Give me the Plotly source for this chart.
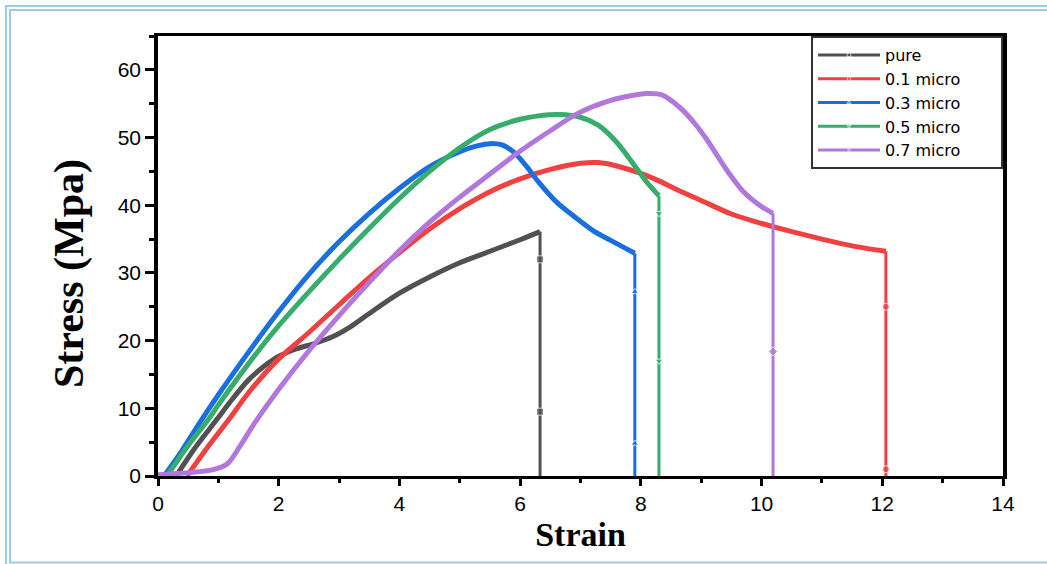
import plotly.graph_objects as go

names = ["pure", "0.1 micro", "0.3 micro", "0.5 micro", "0.7 micro"]
colors = ["#515151", "#F14040", "#1A6FDF", "#37AD6B", "#B177DE"]
symbols = ["square", "circle", "triangle-up", "triangle-down", "diamond"]

pure_x = [0.3, 0.6, 0.97, 1.2, 1.5, 1.8, 2.0, 2.3, 2.6, 2.9, 3.2, 3.5, 4.0, 4.5, 5.0, 5.5, 6.0, 6.33]
pure_y = [0.0, 4.0, 8.3, 11.0, 14.2, 16.5, 17.7, 18.8, 19.6, 20.6, 22.1, 24.0, 27.0, 29.4, 31.5, 33.2, 34.9, 36.1]

m01_x = [0.48, 0.8, 1.17, 1.5, 2.0, 2.5, 3.0, 3.5, 4.0, 4.5, 5.0, 5.5, 6.0, 6.5, 7.0, 7.3, 7.6, 8.0, 8.3, 8.6, 9.0, 9.5, 10.0, 10.5, 11.0, 11.5, 12.06]
m01_y = [0.0, 4.0, 8.3, 12.3, 17.3, 21.2, 25.3, 29.3, 33.0, 36.5, 39.5, 42.0, 43.9, 45.3, 46.2, 46.3, 45.8, 44.7, 43.6, 42.3, 40.7, 38.7, 37.3, 36.1, 35.0, 34.0, 33.2]

m03_x = [0.1, 0.4, 0.7, 1.0, 1.5, 2.0, 2.5, 3.0, 3.5, 4.0, 4.5, 5.0, 5.3, 5.5, 5.7, 5.9, 6.1, 6.3, 6.6, 6.9, 7.2, 7.5, 7.9]
m03_y = [0.0, 3.8, 8.0, 12.0, 18.3, 24.3, 29.8, 34.6, 38.8, 42.5, 45.7, 47.9, 48.8, 49.1, 48.9, 47.8, 45.8, 43.5, 40.5, 38.3, 36.3, 34.8, 32.9]

m05_x = [0.15, 0.5, 0.83, 1.0, 1.5, 2.0, 2.5, 3.0, 3.5, 4.0, 4.5, 5.0, 5.5, 6.0, 6.3, 6.66, 7.0, 7.3, 7.6, 7.9, 8.1, 8.3]
m05_y = [0.0, 4.5, 8.3, 10.5, 16.6, 22.2, 27.2, 32.0, 36.6, 41.0, 45.0, 48.5, 51.2, 52.7, 53.2, 53.4, 53.0, 51.8, 49.3, 45.8, 43.4, 41.4]

m07_x = [0.0, 0.5, 0.9, 1.15, 1.35, 1.6, 2.0, 2.5, 3.0, 3.5, 4.0, 4.5, 5.0, 5.5, 6.0, 6.5, 6.94, 7.5, 8.1, 8.35, 8.65, 8.9, 9.1, 9.43, 9.7, 10.0, 10.19]
m07_y = [0.2, 0.5, 0.9, 1.8, 4.3, 7.8, 12.8, 18.5, 23.7, 28.6, 33.3, 37.5, 41.2, 44.6, 48.0, 51.0, 53.5, 55.5, 56.5, 56.3, 54.4, 52.0, 49.6, 45.1, 42.0, 39.8, 38.8]

# marker positions on the fracture (drop) lines
drop_marks = [[32.0, 9.5], [25.0, 1.0], [27.2, 4.8], [38.8, 17.0], [18.4]]

xs = [pure_x, m01_x, m03_x, m05_x, m07_x]
ys = [pure_y, m01_y, m03_y, m05_y, m07_y]

x_ticks = [0, 2, 4, 6, 8, 10, 12, 14]
y_ticks = [0, 10, 20, 30, 40, 50, 60]

fig = go.Figure()
for i in range(5):
    fig.add_trace(go.Scatter(x=xs[i], y=ys[i], mode="lines",
                             line=dict(color=colors[i], width=5, shape="spline", smoothing=0.8),
                             showlegend=False, hoverinfo="skip"))
pad = "\u00a0" * 7
for i in range(5):
    ex = xs[i][-1]
    ey = ys[i][-1]
    dy = [ey] + drop_marks[i] + [0.0]
    dx = [ex] * len(dy)
    sizes = [0] + [7] * len(drop_marks[i]) + [0]
    fig.add_trace(go.Scatter(x=dx, y=dy, mode="lines+markers", name=names[i] + pad,
                             line=dict(color=colors[i], width=3),
                             marker=dict(symbol=symbols[i], size=sizes, color=colors[i]),
                             showlegend=True))

W, H = 1047, 564
ml, mr, mt, mb = 158, 44, 36, 88
pw, ph = W - ml - mr, H - mt - mb

def px(x):
    return (x - ml) / pw

def py(y):
    return (H - mb - y) / ph

frame_col = "#98CFDC"
shapes = [
    dict(type="rect", xref="paper", yref="paper", x0=px(6), x1=px(1060), y0=py(580), y1=py(6),
         line=dict(color=frame_col, width=2), layer="below"),
    dict(type="rect", xref="paper", yref="paper", x0=px(10), x1=px(1056), y0=py(562.5), y1=py(10),
         line=dict(color=frame_col, width=2), layer="below"),
]

fig.update_layout(
    width=W, height=H,
    margin=dict(l=ml, r=mr, t=mt, b=mb),
    paper_bgcolor="white", plot_bgcolor="white",
    font=dict(family="Liberation Sans, Arial", color="black"),
    shapes=shapes,
    annotations=[dict(text="<b>Stress (Mpa)</b>", xref="paper", yref="paper", x=px(69), y=py(274),
                      xanchor="center", yanchor="middle", textangle=-90, showarrow=False,
                      font=dict(family="Liberation Serif, Times New Roman", size=42, color="black"))],
    xaxis=dict(range=[0, 14], tickvals=x_ticks, ticktext=[str(v) for v in x_ticks],
               showgrid=False, zeroline=False, showline=True, linecolor="black", linewidth=3, mirror=True,
               ticks="outside", ticklen=7, tickwidth=3, tickcolor="black",
               minor=dict(ticks="outside", ticklen=4, tickwidth=3, tickcolor="black", dtick=1, showgrid=False),
               tickfont=dict(size=21, family="Liberation Sans, Arial"),
               title=dict(text="<b>Strain</b>", font=dict(family="Liberation Serif, Times New Roman", size=34), standoff=8)),
    yaxis=dict(range=[0, 65], tickvals=y_ticks, ticktext=[str(v) for v in y_ticks],
               showgrid=False, zeroline=False, showline=True, linecolor="black", linewidth=3.5, mirror=True,
               ticks="outside", ticklen=9, tickwidth=3, tickcolor="black",
               minor=dict(ticks="outside", ticklen=5, tickwidth=3, tickcolor="black", dtick=5, showgrid=False),
               tickfont=dict(size=21, family="Liberation Sans, Arial")),
    legend=dict(x=1, xanchor="right", y=1, yanchor="top", bgcolor="white",
                bordercolor="#333333", borderwidth=2, tracegroupgap=0, itemwidth=62,
                font=dict(size=16, family="DejaVu Sans, Liberation Sans")),
)

fig.write_html("out.html")
